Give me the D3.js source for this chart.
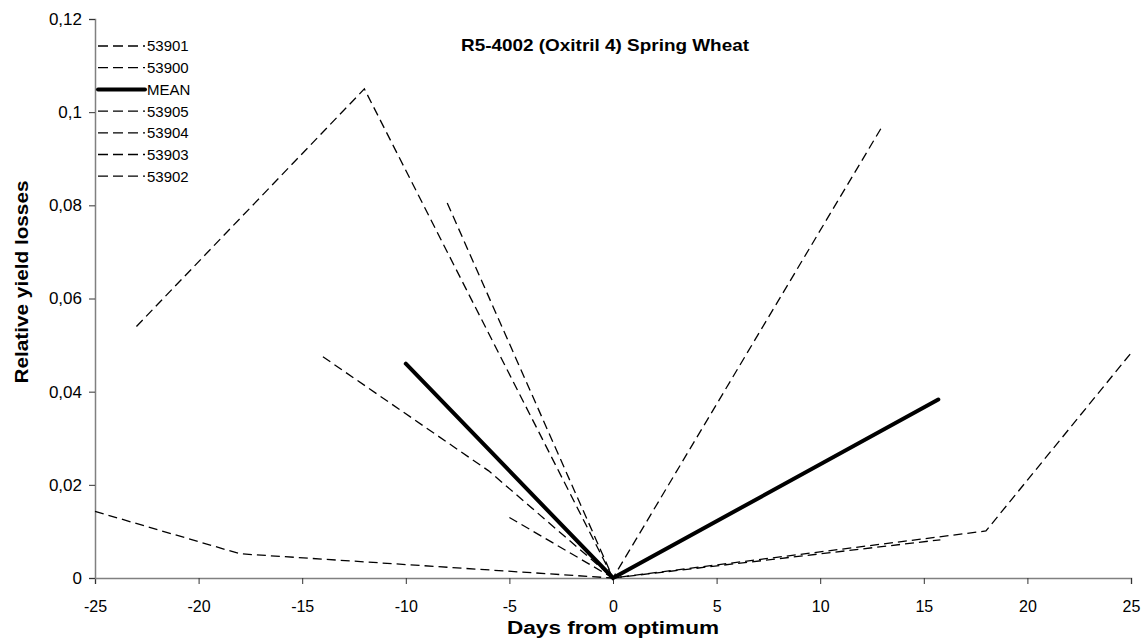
<!DOCTYPE html>
<html>
<head>
<meta charset="utf-8">
<script src="https://cdn.jsdelivr.net/npm/d3@7"></script>
<style>
  html, body { margin: 0; padding: 0; background: #fff; }
  svg { display: block; font-family: "Liberation Sans", Arial, sans-serif; }
</style>
</head>
<body>
<svg id="chart" width="1148" height="640"></svg>
<script>
// Relative yield losses by days from optimum application date
const seriesNames = ["53901", "53900", "MEAN", "53905", "53904", "53903", "53902"];

const s53901 = [[-23, 0.054], [-12, 0.105], [0, 0]];
const s53900 = [[-8, 0.0805], [0, 0], [13, 0.097]];
const sMean  = [[-10, 0.046], [0, 0], [15.7, 0.0383]];
const s53905 = [[-14, 0.0475], [-6, 0.023], [0, 0]];
const s53904 = [[-5, 0.013], [0, 0]];
const s53903 = [[-25, 0.0143], [-18, 0.0052], [0, 0], [18, 0.0101], [25, 0.0483]];
const s53902 = [[0, 0], [15.8, 0.0082]];

const seriesValues = [s53901, s53900, sMean, s53905, s53904, s53903, s53902];

const xTicks = [-25, -20, -15, -10, -5, 0, 5, 10, 15, 20, 25];
const xTickLabels = ["-25", "-20", "-15", "-10", "-5", "0", "5", "10", "15", "20", "25"];
const yTicks = [0, 0.02, 0.04, 0.06, 0.08, 0.1, 0.12];
const yTickLabels = ["0", "0,02", "0,04", "0,06", "0,08", "0,1", "0,12"];

const titleText = "R5-4002 (Oxitril 4) Spring Wheat";
const xTitle = "Days from optimum";
const yTitle = "Relative yield losses";

const svg = d3.select("#chart");

const x = d3.scaleLinear().domain([-25, 25]).range([95, 1131]);
const y = d3.scaleLinear().domain([0, 0.12]).range([578, 19]);

const axisGrey = "#808080";

// x axis
const gx = svg.append("g")
  .attr("transform", `translate(0,${y(0)})`)
  .call(d3.axisBottom(x).tickValues(xTicks).tickSizeOuter(0).tickSize(6)
    .tickFormat((d, i) => xTickLabels[i]));
gx.select(".domain").attr("stroke", axisGrey).attr("stroke-width", 1.5);
gx.selectAll(".tick line").attr("stroke", "#333");
gx.selectAll(".tick text")
  .attr("font-size", 16)
  .attr("fill", "#000")
  .attr("y", 34)
  .attr("dy", 0)
  .attr("text-anchor", "middle");

// y axis
const gy = svg.append("g")
  .attr("transform", `translate(${x(-25)},0)`)
  .call(d3.axisLeft(y).tickValues(yTicks).tickSizeOuter(0).tickSize(6)
    .tickFormat((d, i) => yTickLabels[i]));
gy.select(".domain").attr("stroke", axisGrey).attr("stroke-width", 1.5);
gy.selectAll(".tick line").attr("stroke", "#333");
gy.selectAll(".tick text")
  .attr("font-size", 17)
  .attr("fill", "#000")
  .attr("x", -13);

// series lines
const line = d3.line().x(d => x(d[0])).y(d => y(d[1]));

svg.append("g")
  .selectAll("path")
  .data(seriesValues)
  .join("path")
  .attr("d", line)
  .attr("fill", "none")
  .attr("stroke", "#000")
  .attr("stroke-linecap", (d, i) => seriesNames[i] === "MEAN" ? "round" : "butt")
  .attr("stroke-linejoin", "miter")
  .attr("stroke-width", (d, i) => seriesNames[i] === "MEAN" ? 4 : 1.3)
  .attr("stroke-dasharray", (d, i) => seriesNames[i] === "MEAN" ? null : "9,5");

// legend
const legend = svg.append("g").attr("transform", "translate(98,46)");
const items = legend.selectAll("g")
  .data(seriesNames)
  .join("g")
  .attr("transform", (d, i) => `translate(0,${i * 21.7})`);
items.append("line")
  .attr("x1", 0).attr("x2", 47)
  .attr("y1", 0).attr("y2", 0)
  .attr("stroke", "#000")
  .attr("stroke-linecap", d => d === "MEAN" ? "round" : "butt")
  .attr("stroke-width", d => d === "MEAN" ? 4 : 1.3)
  .attr("stroke-dasharray", d => d === "MEAN" ? null : "10,5");
items.append("text")
  .attr("x", 49)
  .attr("y", 0)
  .attr("dy", "0.36em")
  .attr("font-size", 15)
  .attr("fill", "#000")
  .text(d => d);

// titles
svg.append("text")
  .attr("x", 605).attr("y", 51)
  .attr("text-anchor", "middle")
  .attr("font-size", 17)
  .attr("font-weight", "bold")
  .attr("textLength", 288)
  .attr("lengthAdjust", "spacingAndGlyphs")
  .text(titleText);

svg.append("text")
  .attr("x", x(0)).attr("y", 634)
  .attr("text-anchor", "middle")
  .attr("font-size", 18)
  .attr("font-weight", "bold")
  .attr("textLength", 212)
  .attr("lengthAdjust", "spacingAndGlyphs")
  .text(xTitle);

svg.append("text")
  .attr("transform", `translate(28,282) rotate(-90)`)
  .attr("text-anchor", "middle")
  .attr("font-size", 19)
  .attr("font-weight", "bold")
  .attr("textLength", 203)
  .attr("lengthAdjust", "spacingAndGlyphs")
  .text(yTitle);
</script>
</body>
</html>
